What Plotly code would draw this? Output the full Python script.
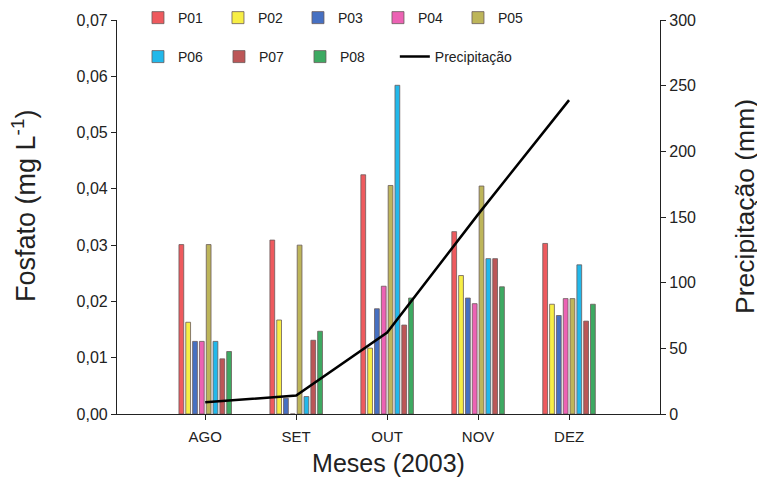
import plotly.graph_objects as go

months = ["AGO", "SET", "OUT", "NOV", "DEZ"]
series_names = ["P01", "P02", "P03", "P04", "P05", "P06", "P07", "P08"]
P01 = [0.0301, 0.0309, 0.0425, 0.0324, 0.0303]
P02 = [0.0163, 0.0167, 0.0117, 0.0246, 0.0195]
P03 = [0.0129, 0.0028, 0.0187, 0.0206, 0.0175]
P04 = [0.0129, 0.0, 0.0227, 0.0196, 0.0205]
P05 = [0.0301, 0.0300, 0.0406, 0.0405, 0.0205]
P06 = [0.0129, 0.0031, 0.0584, 0.0276, 0.0265]
P07 = [0.0098, 0.0131, 0.0158, 0.0276, 0.0165]
P08 = [0.0111, 0.0147, 0.0206, 0.0226, 0.0195]
precip = [9, 14, 62, 152, 239]
left_ticks = [0, 0.01, 0.02, 0.03, 0.04, 0.05, 0.06, 0.07]
right_ticks = [0, 50, 100, 150, 200, 250, 300]

series_values = [P01, P02, P03, P04, P05, P06, P07, P08]
colors = ["#EE5A5E", "#F7EE45", "#4670C2", "#EC62B4", "#BDB55A",
          "#22B8EA", "#BC5657", "#3DAA62"]

font_family = "Liberation Sans, Arial, sans-serif"
fig = go.Figure()
for i, (name, vals) in enumerate(zip(series_names, series_values)):
    fig.add_trace(go.Bar(
        x=months, y=vals, name=name,
        marker=dict(color=colors[i], line=dict(color="#6a5a5a", width=0.8)),
        legend="legend" if i < 5 else "legend2",
    ))
fig.add_trace(go.Scatter(
    x=months, y=precip, name="Precipitação", mode="lines",
    line=dict(color="black", width=2.5), yaxis="y2", legend="legend3",
))

axis_common = dict(
    showline=True, linecolor="#222", linewidth=1.2,
    ticks="outside", ticklen=5, tickcolor="#222",
    showgrid=False, zeroline=False, automargin=False,
)
legend_common = dict(
    orientation="h", xref="container", xanchor="left",
    yref="container", yanchor="middle", entrywidthmode="pixels",
    itemwidth=30, font=dict(size=14), bgcolor="rgba(0,0,0,0)",
)

fig.update_layout(
    width=757, height=478,
    margin=dict(l=109, r=105, t=12, b=72, autoexpand=False),
    paper_bgcolor="white", plot_bgcolor="white",
    separators=",.",
    font=dict(family=font_family, color="#222"),
    barmode="group", bargap=0.40, bargroupgap=0.3,
    xaxis=dict(
        type="category", range=[-0.97, 5.0], tickfont=dict(size=15),
        ticklabelstandoff=4,
        title=dict(text="Meses (2003)", font=dict(size=25), standoff=10),
        **axis_common,
    ),
    yaxis=dict(
        range=[0, 0.07], tickvals=left_ticks, tickformat=".2f",
        tickfont=dict(size=16), **axis_common,
    ),
    yaxis2=dict(
        overlaying="y", side="right", range=[0, 300], tickvals=right_ticks,
        tickfont=dict(size=16), **axis_common,
    ),
    legend=dict(x=0.1717, y=0.979, entrywidth=35, **legend_common),
    legend2=dict(x=0.1717, y=0.8975, entrywidth=36, **legend_common),
    legend3=dict(x=0.511, y=0.8975, **legend_common),
    showlegend=True,
    annotations=[
        dict(text="Fosfato (mg L<sup>-1</sup>)", textangle=-90,
             xref="paper", yref="paper", x=-0.1713, y=0.528,
             xanchor="center", yanchor="middle", showarrow=False,
             font=dict(size=27)),
        dict(text="Precipitação (mm)", textangle=-90,
             xref="paper", yref="paper", x=1.1565, y=0.528,
             xanchor="center", yanchor="middle", showarrow=False,
             font=dict(size=26.5)),
    ],
)

fig.write_html("out.html")
